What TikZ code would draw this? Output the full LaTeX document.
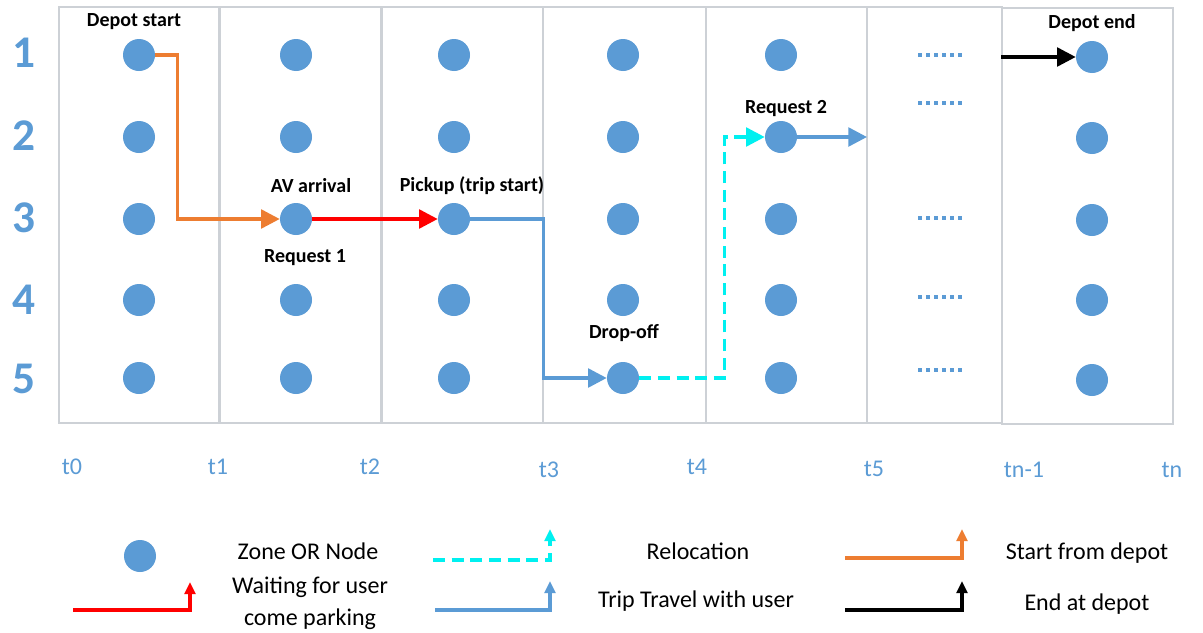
\documentclass[tikz,border=0pt]{standalone}
\usepackage{fontspec}
\setmainfont{Carlito}
\usetikzlibrary{arrows.meta}
\definecolor{nodeblue}{HTML}{5B9BD5}
\definecolor{boxgray}{HTML}{CDD1D6}
\definecolor{aorange}{HTML}{ED7D31}
\definecolor{acyan}{HTML}{00F0F0}
\definecolor{ared}{HTML}{FF0000}
\begin{document}
\begin{tikzpicture}[x=0.75pt,y=-0.75pt,
  zone/.style={circle, fill=nodeblue, minimum size=24pt, inner sep=0pt},
  panel/.style={draw=boxgray, line width=0.8pt},
  rowlab/.style={font=\fontsize{34}{34}\selectfont\bfseries, text=nodeblue},
  timelab/.style={font=\fontsize{18}{18}\selectfont, text=nodeblue},
  evlab/.style={font=\fontsize{15}{15}\selectfont\bfseries},
  legtext/.style={font=\fontsize{18}{24}\selectfont, align=center},
  flow/.style={line width=2.6pt, -{Triangle[length=14pt,width=14pt]}},
  legflow/.style={line width=2.8pt, -{Triangle[length=9pt,width=8pt]}},
  reloc/.style={dash pattern=on 9pt off 5pt},
  moredots/.style={nodeblue, line width=3pt, dash pattern=on 3pt off 3pt}
]
\useasboundingbox (0,0) rectangle (1203,632);
\fill[white] (0,0) rectangle (1203,632);

% panels
\draw[panel] (59,7) rectangle (219,423);
\draw[panel] (220,7) rectangle (381,423);
\draw[panel] (382,7) rectangle (543,423);
\draw[panel] (543,7) rectangle (706,423);
\draw[panel] (706,7) rectangle (867,423);
\draw[panel] (867,7) rectangle (1002,423);
\draw[panel] (1002,8) rectangle (1173,424);

% row labels
\foreach \r/\y in {1/53,2/136,3/218,4/300,5/379}
  \node[rowlab] (row\r) at (24,\y) {\r};

% zones
\foreach \c/\x in {1/139,2/296,3/454,4/623,5/781}
  \foreach \r/\y in {1/55,2/137,3/219,4/300,5/378}
    \node[zone] (n\c\r) at (\x,\y) {};
\foreach \r/\y in {1/57,2/138,3/220,4/300,5/380}
  \node[zone] (n7\r) at (1092,\y) {};

% dots in column 6
\foreach \y in {55,103,218,297,370}
  \draw[moredots] (918,\y) -- (963,\y);

% time labels
\node[timelab] (t0) at (72,467) {t0};
\node[timelab] (t1) at (218,467) {t1};
\node[timelab] (t2) at (370,467) {t2};
\node[timelab] (t3) at (549,470) {t3};
\node[timelab] (t4) at (697,467) {t4};
\node[timelab] (t5) at (874,469) {t5};
\node[timelab] (tn1) at (1024,470) {tn-1};
\node[timelab] (tn) at (1172,470) {tn};

% event labels
\node[evlab] (ldepots) at (134,22) {Depot start};
\node[evlab] (lav) at (311,186) {AV arrival};
\node[evlab] (lreq1) at (305,258) {Request 1};
\node[evlab] (lpick) at (472,186) {Pickup (trip start)};
\node[evlab] (ldrop) at (624,333) {Drop-off};
\node[evlab] (lreq2) at (786,109) {Request 2};
\node[evlab] (ldepote) at (1092,23) {Depot end};

% connectors
\draw[flow, aorange] (n11.east) -- ++(22,0) |- (n23.west);
\draw[flow, ared] (n23.east) -- (n33.west);
\draw[flow, nodeblue] (n33.east) -- ++(73,0) |- (n45.west);
\draw[flow, acyan, reloc] (n45.east) -- ++(85,0) |- (n52.west);
\coordinate (r2end) at (867,137);
\draw[flow, nodeblue] (n52.east) -- (r2end);
\coordinate (depin) at (1001,57);
\draw[flow, black] (depin) -- (n71.west);

% legend
\node[zone] (legzone) at (140,556) {};
\node[legtext] (lzone) at (308,551) {Zone OR Node};
\coordinate (lcs) at (433,560); \coordinate (lce) at (550,529);
\draw[legflow, acyan, reloc] (lcs) -| (lce);
\node[legtext] (lreloc) at (698,551) {Relocation};
\coordinate (los) at (845,558); \coordinate (loe) at (962,529);
\draw[legflow, aorange] (los) -| (loe);
\node[legtext] (lstart) at (1087,553) {Start from depot};
\coordinate (lrs) at (73,610); \coordinate (lre) at (190,582);
\draw[legflow, ared] (lrs) -| (lre);
\node[legtext] (lwait) at (310,603) {Waiting for user\\come parking};
\coordinate (lbs) at (435,610); \coordinate (lbe) at (550,581);
\draw[legflow, nodeblue] (lbs) -| (lbe);
\node[legtext] (ltrip) at (696,601) {Trip Travel with user};
\coordinate (lks) at (845,610); \coordinate (lke) at (962,581);
\draw[legflow, black] (lks) -| (lke);
\node[legtext] (lend) at (1087,604) {End at depot};
\end{tikzpicture}
\end{document}
